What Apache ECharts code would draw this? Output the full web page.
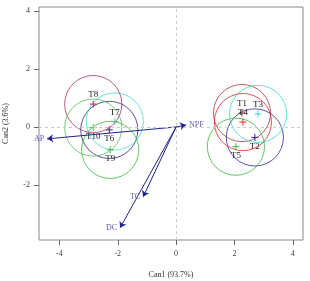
<!DOCTYPE html>
<html>
<head>
<meta charset="utf-8">
<script src="https://cdn.jsdelivr.net/npm/echarts@6/dist/echarts.min.js"></script>
<style>
  html, body { margin: 0; padding: 0; background: #fff; }
  #chart { width: 310px; height: 281px; }
</style>
</head>
<body>
<div id="chart"></div>
<script>
// group centroids (Can1, Can2) and circle radius
var groups = ['T1', 'T2', 'T3', 'T4', 'T5', 'T6', 'T7', 'T8', 'T9', 'T10'];
var cx = [2.26, 2.70, 2.81, 2.29, 2.05, -2.29, -2.10, -2.84, -2.26, -2.84];
var cy = [0.48, -0.36, 0.45, 0.17, -0.68, -0.10, 0.19, 0.79, -0.79, -0.02];
var radius = [0.98, 0.98, 0.98, 0.98, 0.98, 0.98, 0.98, 0.98, 0.98, 0.98];

// structure vectors
var vars = ['AP', 'NPF', 'TC', 'DC'];
var vx = [-4.42, 0.34, -1.13, -1.92];
var vy = [-0.41, 0.07, -2.41, -3.48];

var xTicks = [-4, -2, 0, 2, 4];
var yTicks = [-2, 0, 2, 4];

var colors = ['#a53a3a', '#2a2a9a', '#3fd8d0', '#e02828', '#3cb83c',
              '#2a2a7a', '#4dd8d8', '#b03060', '#3cb83c', '#55c255'];
var font = 'Liberation Serif';

var chart = echarts.init(document.getElementById('chart'));

var groupData = groups.map(function (g, i) {
  return [cx[i], cy[i], radius[i], i];
});

var arrowData = vars.map(function (v, i) {
  return { coords: [[0, 0], [vx[i], vy[i]]] };
});

var labelPos = ['left', 'right', 'left', 'left'];
var tipData = vars.map(function (v, i) {
  return { value: [vx[i], vy[i]], name: v, label: { position: labelPos[i] } };
});

chart.setOption({
  animation: false,
  grid: {
    left: 39, right: 7, top: 7, bottom: 41, outerBoundsMode: 'none',
    show: true, borderColor: '#888', borderWidth: 1
  },
  xAxis: {
    type: 'value', min: -4.7, max: 4.35,
    name: 'Can1 (93.7%)', nameLocation: 'middle', nameGap: 31,
    nameTextStyle: { fontFamily: font, fontSize: 8, color: '#333' },
    axisLine: { show: false, onZero: false },
    splitLine: { show: false },
    axisTick: { show: true, length: 5, customValues: xTicks, lineStyle: { color: '#666' } },
    axisLabel: { customValues: xTicks, fontFamily: font, fontSize: 8, color: '#444', margin: 10 }
  },
  yAxis: {
    type: 'value', min: -3.9, max: 4.14,
    name: 'Can2 (3.6%)', nameLocation: 'middle', nameGap: 29, nameRotate: 90,
    nameTextStyle: { fontFamily: font, fontSize: 8, color: '#333' },
    axisLine: { show: false, onZero: false },
    splitLine: { show: false },
    axisTick: { show: true, length: 5, customValues: yTicks, lineStyle: { color: '#666' } },
    axisLabel: { customValues: yTicks, fontFamily: font, fontSize: 8, color: '#444', margin: 9 }
  },
  series: [
    {
      type: 'line', data: [], silent: true,
      markLine: {
        silent: true, symbol: 'none', label: { show: false },
        lineStyle: { color: '#ccc', type: [3, 3], width: 1 },
        data: [{ xAxis: 0 }, { yAxis: 0 }]
      }
    },
    {
      type: 'custom',
      data: groupData,
      renderItem: function (params, api) {
        var p = api.coord([api.value(0), api.value(1)]);
        var r = api.size([api.value(2), api.value(2)])[0];
        var i = api.value(3);
        var col = colors[i];
        var above = cy[i] > 0;
        return {
          type: 'group',
          children: [
            { type: 'circle', shape: { cx: p[0], cy: p[1], r: r },
              style: { fill: 'none', stroke: col, lineWidth: 0.8 } },
            { type: 'line', shape: { x1: p[0] - 3.5, y1: p[1], x2: p[0] + 3.5, y2: p[1] },
              style: { stroke: col, lineWidth: 1 } },
            { type: 'line', shape: { x1: p[0], y1: p[1] - 3.5, x2: p[0], y2: p[1] + 3.5 },
              style: { stroke: col, lineWidth: 1 } },
            { type: 'text', x: p[0], y: p[1] + (above ? -9 : 9),
              style: { text: groups[i], fontFamily: font, fontSize: 9, fill: '#222',
                       align: 'center', verticalAlign: 'middle' } }
          ]
        };
      }
    },
    {
      type: 'lines', coordinateSystem: 'cartesian2d',
      data: arrowData,
      symbol: ['none', 'arrow'], symbolSize: 6,
      lineStyle: { color: '#22228c', width: 1, opacity: 1 }
    },
    {
      type: 'scatter', data: tipData, symbolSize: 0,
      label: {
        show: true, formatter: '{b}', distance: 3,
        fontFamily: font, fontSize: 8, color: '#33339a'
      }
    }
  ]
});
</script>
</body>
</html>
